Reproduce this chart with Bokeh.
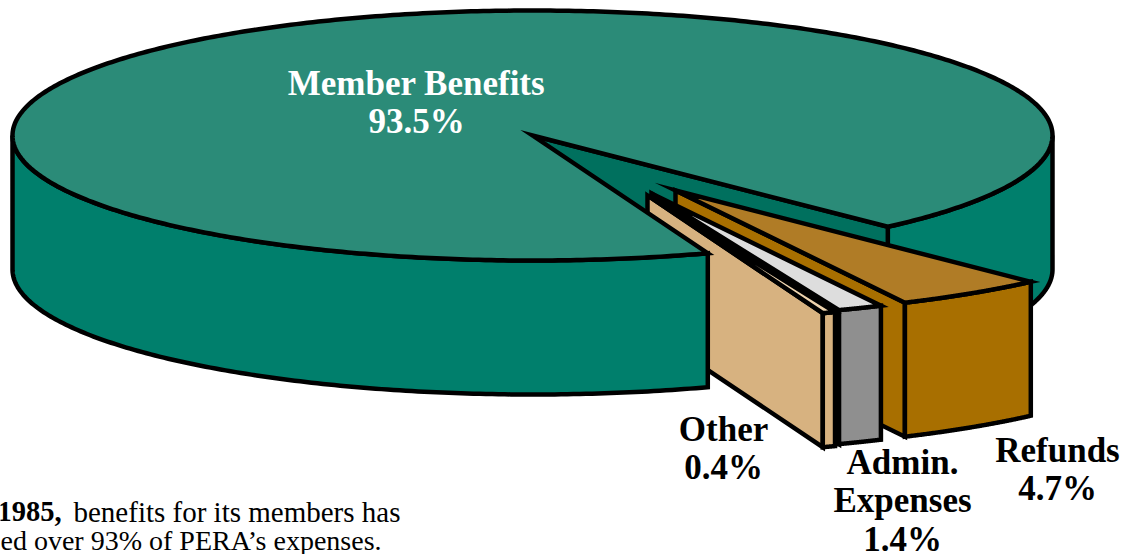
import numpy as np
from bokeh.plotting import figure
from bokeh.models import Range1d
from bokeh.core.properties import value
from bokeh.embed import file_html
from bokeh.resources import INLINE

# Shares of expenses, in percent
categories = ["Refunds", "Admin. Expenses", "Other", "Member Benefits"]
shares = [4.7, 1.4, 0.4, 93.5]

# Pull-out of each small slice, in canvas pixels
explode = {"Refunds": (143, 55), "Admin. Expenses": (119, 58), "Other": (115, 60)}
colours = {
    "Refunds": ("#b07c26", "#a86f00", "#a86f00"),
    "Admin. Expenses": ("#dddddd", "#b5b5b5", "#8f8f8f"),
    "Other": ("#edd3ae", "#d7b280", "#d7b280"),
}

CX, CY, RX, RY, DEPTH = 532, 135, 520, 125, 134
START = 46.9   # clockwise from east, where the first slice begins
LW = 4.5
TOP, SIDE, WALL = "#2b8b78", "#007f6c", "#00705e"

p = figure(width=1132, height=554, output_backend="svg", toolbar_location=None,
           x_range=Range1d(0, 1132), y_range=Range1d(554, 0),
           min_border=0, outline_line_color=None, background_fill_color="white")
p.axis.visible = False
p.grid.visible = False


def arc(a0, a1, dx=0, dy=0, drop=0, n=160):
    t = np.radians(np.linspace(a0, a1, n))
    return CX + dx + RX * np.cos(t), CY + dy + drop + RY * np.sin(t)


def shape(xs, ys, fill):
    p.patch(list(xs), list(ys), fill_color=fill, line_color="black",
            line_width=LW, line_join="miter")


def side_band(a0, a1, fill, dx=0, dy=0):
    x0, y0 = arc(a0, a1, dx, dy)
    x1, y1 = arc(a0, a1, dx, dy, DEPTH)
    shape(np.r_[x0, x1[::-1]], np.r_[y0, y1[::-1]], fill)


def radial_wall(angle, fill, dx=0, dy=0):
    x, y = arc(angle, angle, dx, dy, n=1)
    ax, ay = CX + dx, CY + dy
    shape([ax, x[0], x[0], ax], [ay, y[0], y[0] + DEPTH, ay + DEPTH], fill)


edges = START + np.cumsum([0] + [s * 3.6 for s in shares[:3]])
gap_start, gap_end = edges[0], edges[-1]

# Back part of the main slice, seen through the gap
side_band(0, gap_start, SIDE)
radial_wall(gap_start, WALL)

# Pulled-out slices, back to front
for name, a0, a1 in zip(categories[:3], edges[:-1], edges[1:]):
    dx, dy = explode[name]
    top, wall, face = colours[name]
    radial_wall(a1, wall, dx, dy)
    side_band(a0, a1, face, dx, dy)
    x, y = arc(a0, a1, dx, dy)
    shape(np.r_[CX + dx, x], np.r_[CY + dy, y], top)

# Main slice sits over the inner ends of the small ones
side_band(gap_end, 180, SIDE)
x, y = arc(gap_end, gap_start + 360, n=500)
shape(np.r_[CX, x], np.r_[CY, y], TOP)


def label(x, y, text, colour="black", style="bold", align="center", size=35):
    # the renderer sets text about a third of an em low, so lift it by that much
    p.text([x], [y - 0.31 * size], text=[text], text_color=colour,
           text_font=value("Liberation Serif"), text_font_style=style,
           text_font_size=f"{size}px", text_align=align, text_baseline="alphabetic")


label(416, 94, categories[3], "white")
label(416, 132, f"{shares[3]}%", "white")
label(723, 440, categories[2])
label(723, 478, f"{shares[2]}%")
label(902, 473, "Admin.")
label(902, 511, "Expenses")
label(902, 550, f"{shares[1]}%")
label(1057, 461, categories[0])
label(1057, 499, f"{shares[0]}%")

label(61, 520, "1985,", align="right", size=28.5)
label(73, 520, "benefits for its members has", style="normal", align="left", size=29)
label(0, 549, "ed over 93% of PERA\u2019s expenses.", style="normal", align="left", size=28)

open("out.html", "w").write(file_html(p, INLINE))
